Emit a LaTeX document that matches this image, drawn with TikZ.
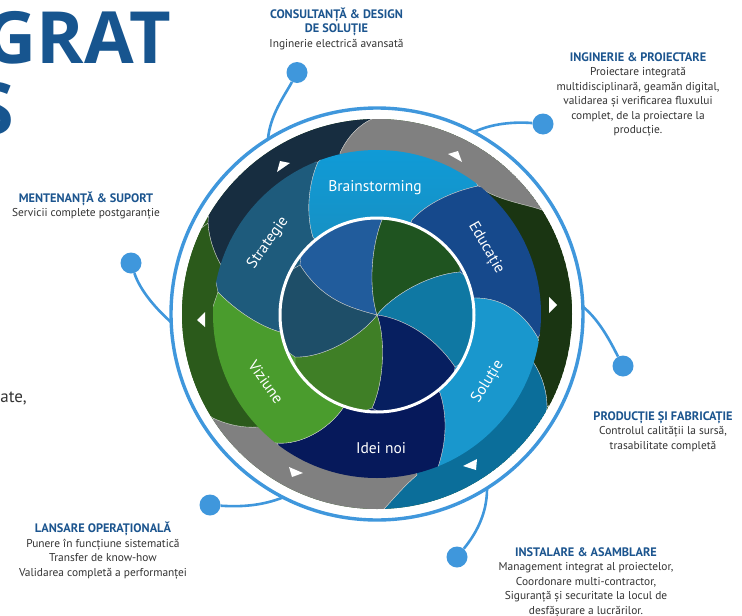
\documentclass[tikz,border=0pt]{standalone}
\usepackage{fontspec}
\setmainfont{PT Sans}
\newfontfamily\titlefont{Open Sans}
\definecolor{ringblue}{HTML}{3F97DC}
\definecolor{headblue}{HTML}{1C558F}
\definecolor{bodytext}{HTML}{333333}
\definecolor{titleblue}{HTML}{17558F}
\definecolor{bandnavy}{HTML}{172D40}
\definecolor{bandgray}{HTML}{808080}
\definecolor{banddark}{HTML}{1A3512}
\definecolor{bandteal}{HTML}{0B6E9A}
\definecolor{bandgreen}{HTML}{2B5A1B}
\definecolor{petbrainA}{HTML}{0AA3E6}
\definecolor{petbrainB}{HTML}{1C88B4}
\definecolor{petedu}{HTML}{16498C}
\definecolor{petsol}{HTML}{1997CD}
\definecolor{petidei}{HTML}{06195B}
\definecolor{petviz}{HTML}{4A9C2D}
\definecolor{petstr}{HTML}{1E5B7C}
\definecolor{blblue}{HTML}{215C9C}
\definecolor{blgreen}{HTML}{1F5420}
\definecolor{blteal}{HTML}{0F78A3}
\definecolor{blnavy}{HTML}{071F60}
\definecolor{blgreenb}{HTML}{3F7F26}
\definecolor{bldark}{HTML}{1E4E68}
\tikzset{
  conn/.style={draw=ringblue,line width=2.6pt},
  dotnode/.style={circle,fill=ringblue,minimum size=21pt,inner sep=0pt},
  infotext/.style={align=center,text=bodytext,inner sep=0pt,font=\fontsize{11.4}{14.5}\selectfont},
  petlabel/.style={text=white,inner sep=0pt,font=\fontsize{15.5}{17}\selectfont},
  edge/.style={draw=white!65!gray,line width=.35pt},
  tri/.style={fill=white,draw=none}
}
\newcommand{\hd}[1]{{\fontsize{12.3}{14.5}\selectfont\textcolor{headblue}{\textbf{#1}}}}
\begin{document}
\begin{tikzpicture}[x=1pt,y=-1pt]
\useasboundingbox (0,0) rectangle (742,616);
\fill[white] (0,0) rectangle (742,616);
% title fragments
\begin{scope}
\clip (0,0) rectangle (742,616);
\node[anchor=base east,inner sep=0pt,text=titleblue,font=\titlefont\bfseries\fontsize{72}{72}\selectfont] (title) at (171,63) {GRAT};
\node[anchor=base east,inner sep=0pt,text=titleblue,font=\titlefont\bfseries\fontsize{72}{72}\selectfont] (titleb) at (14,134) {S};
\node[anchor=base east,inner sep=0pt,text=bodytext,font=\fontsize{17}{20}\selectfont] (frag) at (27,402) {ate,};
\end{scope}
% outer ring
\draw[ringblue,line width=3.4pt] (377,314) circle[radius=206];
% connectors
\node[dotnode] (d1) at (297,72.5) {};
\node[dotnode] (d2) at (543,124) {};
\node[dotnode] (d3) at (623,366) {};
\node[dotnode] (d4) at (210,505) {};
\node[dotnode] (d5) at (457,557) {};
\node[dotnode] (d6) at (131,263) {};
\coordinate (r1) at (268,139);
\coordinate (r2) at (474,132);
\coordinate (r3) at (582,306);
\coordinate (r4) at (284,497);
\coordinate (r5) at (487,489);
\coordinate (r6) at (172,323);
\draw[conn] (d1) .. controls (285,95) and (270,115) .. (r1);
\draw[conn] (d2) .. controls (520,122) and (495,122) .. (r2);
\draw[conn] (d3) .. controls (612,345) and (600,320) .. (r3);
\draw[conn] (d4) .. controls (240,507) and (262,506) .. (r4);
\draw[conn] (d5) .. controls (475,535) and (487,515) .. (r5);
\draw[conn] (d6) .. controls (140,290) and (155,308) .. (r6);
% outer band
\begin{scope}
\clip (377,314) circle[radius=195];
\fill[bandgreen] (377,314) circle[radius=195];
\path[fill=bandnavy,edge] (377,314) -- (222,267) .. controls (215,255) and (209,240) .. (208,223) -- (218,60) -- (372,119) .. controls (355,127) and (345,142) .. (340,153) -- cycle;
\path[fill=bandgray,edge] (377,314) -- (340,153) .. controls (345,142) and (355,127) .. (372,119) -- (518,49) -- (542,210) .. controls (525,204) and (495,200) .. (478,186) -- cycle;
\path[fill=banddark,edge] (377,314) -- (478,186) .. controls (495,200) and (525,204) .. (542,210) -- (677,304) -- (547,407) .. controls (547,392) and (542,375) .. (533,362) -- cycle;
\path[fill=bandteal,edge] (377,314) -- (533,362) .. controls (542,375) and (547,392) .. (547,407) -- (536,568) -- (383,510) .. controls (395,497) and (405,485) .. (417,475) -- cycle;
\path[fill=bandgray,edge] (377,314) -- (417,475) .. controls (405,485) and (395,497) .. (383,510) -- (236,579) -- (213,418) .. controls (228,425) and (243,428) .. (258,427) -- cycle;
\path[fill=bandgreen,edge] (377,314) -- (258,427) .. controls (243,428) and (228,425) .. (213,418) -- (77,324) -- (208,223) .. controls (209,240) and (215,255) .. (222,267) -- cycle;
\end{scope}
% petals
\begin{scope}
\clip (377,314) circle[radius=164];
\path[fill=petstr,edge] (377,315) -- (280,332) .. controls (255,325) and (230,305) .. (218,292) -- (191,163) -- (318,162) .. controls (308,185) and (306,215) .. (313,237) -- cycle;
\path[top color=petbrainA,bottom color=petbrainB,edge] (377,315) -- (313,237) .. controls (306,215) and (308,185) .. (318,162) -- (414,77) -- (478,186) .. controls (450,192) and (425,205) .. (412,220) -- cycle;
\path[fill=petedu,edge] (377,315) -- (412,220) .. controls (425,205) and (450,192) .. (478,186) -- (600,224) -- (538,338) .. controls (525,315) and (505,298) .. (475,298) -- cycle;
\path[fill=petsol,edge] (377,315) -- (475,298) .. controls (505,298) and (525,315) .. (538,338) -- (566,462) -- (438,467) .. controls (447,440) and (447,415) .. (440,393) -- cycle;
\path[fill=petidei,edge] (377,315) -- (440,393) .. controls (447,415) and (447,440) .. (438,467) -- (344,552) -- (277,443) .. controls (300,445) and (328,430) .. (343,408) -- cycle;
\path[fill=petviz,edge] (377,315) -- (343,408) .. controls (328,430) and (300,445) .. (277,443) -- (169,434) -- (218,292) .. controls (230,305) and (255,325) .. (280,332) -- cycle;
\end{scope}
% inner blades
\begin{scope}
\clip (377,315) circle[radius=97];
\path[fill=blblue,edge] (377,315) .. controls (350,308) and (322,300) .. (300,265) -- (309,181) -- (382,220) .. controls (372,245) and (368,285) .. (377,315) -- cycle;
\path[fill=blgreen,edge] (377,315) .. controls (368,285) and (372,245) .. (382,220) -- (459,188) -- (460,272) .. controls (425,275) and (390,298) .. (377,315) -- cycle;
\path[fill=blteal,edge] (377,315) .. controls (390,298) and (425,275) .. (460,272) -- (527,322) -- (455,367) .. controls (430,330) and (395,317) .. (377,315) -- cycle;
\path[fill=blnavy,edge] (377,315) .. controls (395,317) and (430,330) .. (455,367) -- (445,448) -- (372,408) .. controls (385,380) and (385,335) .. (377,315) -- cycle;
\path[fill=blgreenb,edge] (377,315) .. controls (385,335) and (385,380) .. (372,408) -- (295,440) -- (295,357) .. controls (325,358) and (362,335) .. (377,315) -- cycle;
\path[fill=bldark,edge] (377,315) .. controls (362,335) and (325,358) .. (295,357) -- (227,307) -- (300,265) .. controls (322,300) and (350,308) .. (377,315) -- cycle;
\end{scope}
\draw[white,line width=3pt] (377,315) circle[radius=97];
% triangles
\fill[tri] (277,172) -- (290,163) -- (280,161) -- cycle;
\fill[tri] (448,154) -- (458,151) -- (462,162) -- cycle;
\fill[tri] (549,297) -- (557,305) -- (549,313) -- cycle;
\fill[tri] (463,466) -- (477,459) -- (476,470) -- cycle;
\fill[tri] (289,467) -- (303,473) -- (292,477) -- cycle;
\fill[tri] (197,320) -- (205,312) -- (205,327) -- cycle;
% petal labels
\node[petlabel] (l1) at (375,188) {Brainstorming};
\node[petlabel,rotate=55] (l2) at (268,243) {Strategie};
\node[petlabel,rotate=-60] (l3) at (486,248) {Educație};
\node[petlabel,rotate=58] (l4) at (488,382) {Soluție};
\node[petlabel] (l5) at (381,448) {Idei noi};
\node[petlabel,rotate=-55] (l6) at (266,382) {Viziune};
% info text
\node[infotext] (t1) at (336.5,28.5) {\hd{CONSULTANȚĂ \& DESIGN}\\\hd{DE SOLUȚIE}\\Inginerie electrică avansată};
\node[infotext] (t2) at (638,94.5) {\hd{INGINERIE \& PROIECTARE}\\Proiectare integrată\\multidisciplinară, geamăn digital,\\validarea și verificarea fluxului\\complet, de la proiectare la\\producție.};
\node[infotext] (t3) at (86,205.5) {\hd{MENTENANȚĂ \& SUPORT}\\Servicii complete postgaranție};
\node[infotext] (t4) at (663,431.5) {\hd{PRODUCȚIE ȘI FABRICAȚIE}\\Controlul calității la sursă,\\trasabilitate completă};
\node[infotext] (t5) at (103,550.5) {\hd{LANSARE OPERAȚIONALĂ}\\Punere în funcțiune sistematică\\Transfer de know-how\\Validarea completă a performanței};
\node[infotext] (t6) at (586,582) {\hd{INSTALARE \& ASAMBLARE}\\Management integrat al proiectelor,\\Coordonare multi-contractor,\\Siguranță și securitate la locul de\\desfășurare a lucrărilor.};
\end{tikzpicture}
\end{document}
